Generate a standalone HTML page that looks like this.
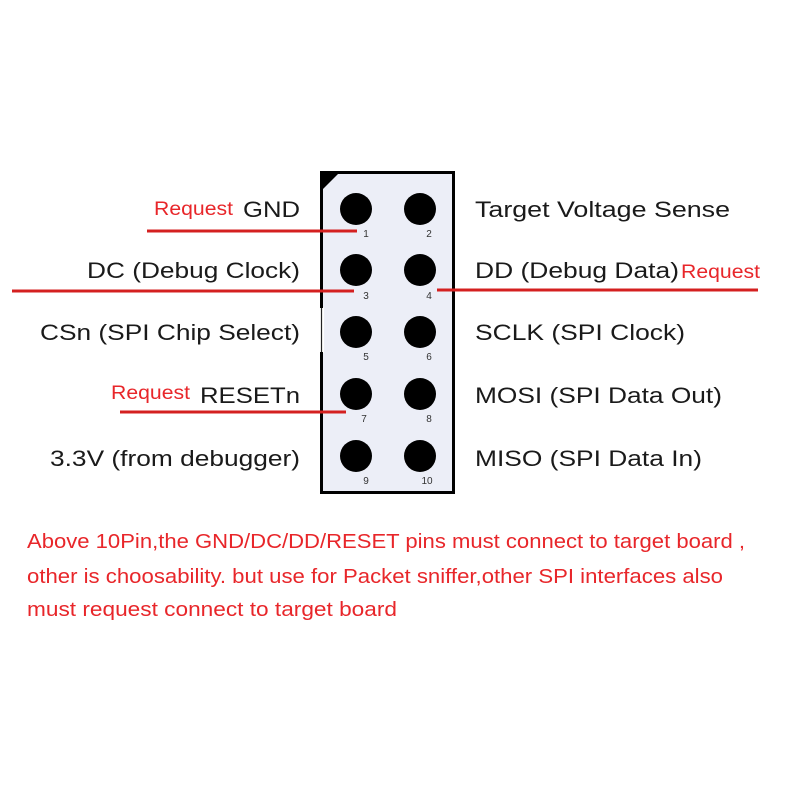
<!DOCTYPE html>
<html><head><meta charset="utf-8"><style>
html,body{margin:0;padding:0;background:#fff;}
svg{display:block;}
</style></head><body>
<svg width="800" height="800" viewBox="0 0 800 800" xmlns="http://www.w3.org/2000/svg">
<rect width="800" height="800" fill="#fff"/>
<rect x="321.5" y="172.5" width="132" height="320" fill="#eceef7" stroke="#000" stroke-width="3"/>
<polygon points="320,171 341,171 320,192" fill="#000"/>
<rect x="318" y="307" width="6" height="46" fill="#fff"/>
<line x1="321.5" y1="300" x2="321.5" y2="356" stroke="#222" stroke-width="1.2"/>
<rect x="320" y="300" width="3" height="8" fill="#000"/>
<rect x="320" y="352" width="3" height="8" fill="#000"/>
<g fill="#000">
<circle cx="356" cy="209" r="16"/><circle cx="420" cy="209" r="16"/>
<circle cx="356" cy="270" r="16"/><circle cx="420" cy="270" r="16"/>
<circle cx="356" cy="332" r="16"/><circle cx="420" cy="332" r="16"/>
<circle cx="356" cy="394" r="16"/><circle cx="420" cy="394" r="16"/>
<circle cx="356" cy="456" r="16"/><circle cx="420" cy="456" r="16"/>
</g>
<g font-family="Liberation Sans, sans-serif" font-size="10" fill="#333" text-anchor="middle">
<text x="366" y="237">1</text><text x="429" y="237">2</text>
<text x="366" y="299">3</text><text x="429" y="299">4</text>
<text x="366" y="360">5</text><text x="429" y="360">6</text>
<text x="364" y="422">7</text><text x="429" y="422">8</text>
<text x="366" y="484">9</text><text x="427" y="484">10</text>
</g>
<g stroke="#d42020" stroke-width="3">
<line x1="147" y1="231" x2="357" y2="231"/>
<line x1="12" y1="291" x2="354" y2="291"/>
<line x1="437" y1="290" x2="758" y2="290"/>
<line x1="120" y1="412" x2="346" y2="412"/>
</g>
<g font-family="Liberation Sans, sans-serif" font-size="22" fill="#1a1a1a">
<text x="243" y="217" textLength="57" lengthAdjust="spacingAndGlyphs">GND</text>
<text x="87" y="278" textLength="213" lengthAdjust="spacingAndGlyphs">DC (Debug Clock)</text>
<text x="40" y="340" textLength="260" lengthAdjust="spacingAndGlyphs">CSn (SPI Chip Select)</text>
<text x="200" y="403" textLength="100" lengthAdjust="spacingAndGlyphs">RESETn</text>
<text x="50" y="466" textLength="250" lengthAdjust="spacingAndGlyphs">3.3V (from debugger)</text>
<text x="475" y="217" textLength="255" lengthAdjust="spacingAndGlyphs">Target Voltage Sense</text>
<text x="475" y="278" textLength="204" lengthAdjust="spacingAndGlyphs">DD (Debug Data)</text>
<text x="475" y="340" textLength="210" lengthAdjust="spacingAndGlyphs">SCLK (SPI Clock)</text>
<text x="475" y="403" textLength="247" lengthAdjust="spacingAndGlyphs">MOSI (SPI Data Out)</text>
<text x="475" y="466" textLength="227" lengthAdjust="spacingAndGlyphs">MISO (SPI Data In)</text>
</g>
<g font-family="Liberation Sans, sans-serif" font-size="19" fill="#e8262a">
<text x="154" y="215" textLength="79" lengthAdjust="spacingAndGlyphs">Request</text>
<text x="681" y="278" textLength="79" lengthAdjust="spacingAndGlyphs">Request</text>
<text x="111" y="399" textLength="79" lengthAdjust="spacingAndGlyphs">Request</text>
</g>
<g font-family="Liberation Sans, sans-serif" font-size="20" fill="#e8262a">
<text x="27" y="548" textLength="718" lengthAdjust="spacingAndGlyphs">Above 10Pin,the GND/DC/DD/RESET pins must connect to target board ,</text>
<text x="27" y="583" textLength="696" lengthAdjust="spacingAndGlyphs">other is choosability. but use for Packet sniffer,other SPI interfaces also</text>
<text x="27" y="616" textLength="370" lengthAdjust="spacingAndGlyphs">must request connect to target board</text>
</g>
</svg>
</body></html>
